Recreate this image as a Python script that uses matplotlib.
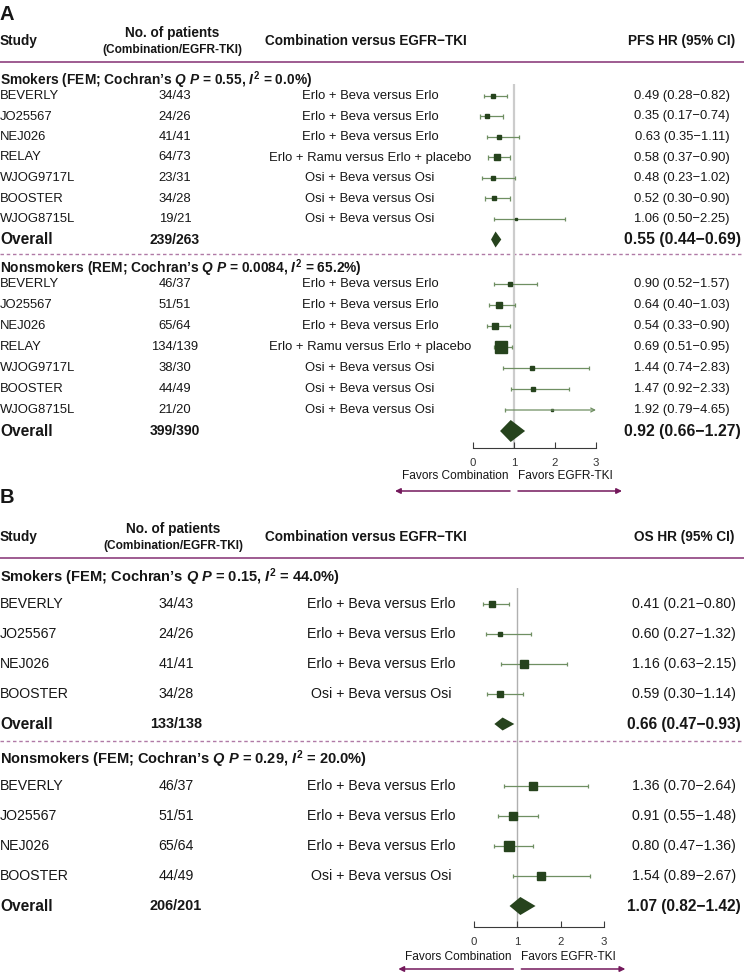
import matplotlib
matplotlib.use("Agg")
import matplotlib.pyplot as plt

plt.rcParams['font.family'] = ['Liberation Sans', 'DejaVu Sans']
plt.rcParams['mathtext.fontset'] = 'custom'
plt.rcParams['mathtext.rm'] = 'Liberation Sans:bold'
plt.rcParams['mathtext.it'] = 'Liberation Sans:italic:bold'
plt.rcParams['mathtext.bf'] = 'Liberation Sans:bold'

# ---- data: panel A (PFS) ----
studies_a = ['BEVERLY', 'JO25567', 'NEJ026', 'RELAY', 'WJOG9717L', 'BOOSTER', 'WJOG8715L']
arms_a = ['Erlo + Beva versus Erlo', 'Erlo + Beva versus Erlo', 'Erlo + Beva versus Erlo',
          'Erlo + Ramu versus Erlo + placebo', 'Osi + Beva versus Osi',
          'Osi + Beva versus Osi', 'Osi + Beva versus Osi']

pfs_smk_n = ['34/43', '24/26', '41/41', '64/73', '23/31', '34/28', '19/21']
pfs_smk_hr = [0.49, 0.35, 0.63, 0.58, 0.48, 0.52, 1.06]
pfs_smk_lo = [0.28, 0.17, 0.35, 0.37, 0.23, 0.30, 0.50]
pfs_smk_hi = [0.82, 0.74, 1.11, 0.90, 1.02, 0.90, 2.25]
pfs_smk_w = [4, 3, 4, 6, 3, 3.5, 2]
pfs_smk_all = ['239/263', 0.55, 0.44, 0.69]

pfs_non_n = ['46/37', '51/51', '65/64', '134/139', '38/30', '44/49', '21/20']
pfs_non_hr = [0.90, 0.64, 0.54, 0.69, 1.44, 1.47, 1.92]
pfs_non_lo = [0.52, 0.40, 0.33, 0.51, 0.74, 0.92, 0.79]
pfs_non_hi = [1.57, 1.03, 0.90, 0.95, 2.83, 2.33, 4.65]
pfs_non_w = [4, 5, 6, 11, 3, 4.5, 2]
pfs_non_all = ['399/390', 0.92, 0.66, 1.27]

# ---- data: panel B (OS) ----
studies_b = ['BEVERLY', 'JO25567', 'NEJ026', 'BOOSTER']
arms_b = ['Erlo + Beva versus Erlo', 'Erlo + Beva versus Erlo',
          'Erlo + Beva versus Erlo', 'Osi + Beva versus Osi']

os_smk_n = ['34/43', '24/26', '41/41', '34/28']
os_smk_hr = [0.41, 0.60, 1.16, 0.59]
os_smk_lo = [0.21, 0.27, 0.63, 0.30]
os_smk_hi = [0.80, 1.32, 2.15, 1.14]
os_smk_w = [6, 4, 7, 5]
os_smk_all = ['133/138', 0.66, 0.47, 0.93]

os_non_n = ['46/37', '51/51', '65/64', '44/49']
os_non_hr = [1.36, 0.91, 0.80, 1.54]
os_non_lo = [0.70, 0.55, 0.47, 0.89]
os_non_hi = [2.64, 1.48, 1.36, 2.67]
os_non_w = [7, 7, 9, 7]
os_non_all = ['206/201', 1.07, 0.82, 1.42]

ticks = [0, 1, 2, 3]

PT = '#26431d'
CI = '#6f8f62'
PURPLE = '#8e3f7e'
DASH = '#b07aa6'
ARROW = '#74195c'
TXT = '#161616'

W, H = 744, 972
fig = plt.figure(figsize=(7.44, 9.72), dpi=100)
bg = fig.add_axes([0, 0, 1, 1])
bg.set_xlim(0, W)
bg.set_ylim(H, 0)
bg.axis('off')


def fmt(hr, lo, hi):
    return '%.2f (%.2f\u2212%.2f)' % (hr, lo, hi)


def panel(letter, y0, endpoint, groups, studies, arms, lay):
    fs = lay['fs']
    bg.text(0, y0, letter, fontsize=14.5, fontweight='bold', va='center', color=TXT)
    hy = lay['head']
    bg.text(0, hy, 'Study', fontsize=9.8, fontweight='bold', va='center', color=TXT)
    bg.text(lay['ncol'] - 3, hy - 8, 'No. of patients', fontsize=9.8,
            fontweight='bold', va='center', ha='center', color=TXT)
    bg.text(lay['ncol'] - 3, hy + 9, '(Combination/EGFR-TKI)', fontsize=8.6,
            fontweight='bold', va='center', ha='center', color=TXT)
    bg.text(366, hy, 'Combination versus EGFR\u2212TKI', fontsize=9.8,
            fontweight='bold', va='center', ha='center', color=TXT)
    bg.text(lay['hrcol'], hy, endpoint + ' HR (95% CI)', fontsize=9.8,
            fontweight='bold', va='center', ha='center', color=TXT)
    bg.plot([0, W], [lay['line'], lay['line']], color=PURPLE, lw=1.2)

    ax = fig.add_axes([lay['x0'] / W, 1 - lay['axis'] / H,
                       (lay['x1'] - lay['x0']) / W, (lay['axis'] - lay['top']) / H])
    ax.set_xlim(0, 3)
    ax.set_ylim(lay['axis'], lay['top'])
    ax.patch.set_visible(False)
    for s in ['top', 'left', 'right']:
        ax.spines[s].set_visible(False)
    ax.spines['bottom'].set_color('#3a3a3a')
    ax.set_yticks([])
    ax.set_xticks(ticks)
    ax.tick_params(axis='x', direction='in', length=4.5, color='#3a3a3a',
                   labelsize=8.2, labelcolor='#333333', pad=lay['pad'])
    ax.axvline(1, color=lay['refc'], lw=lay['refw'], zorder=0)

    for gi, (title, n, hr, lo, hi, wt, tot) in enumerate(groups):
        top = lay['rows'][gi]
        step = lay['step'][gi]
        bg.text(0, top - lay['gap'], title, fontsize=lay['gfs'], fontweight='bold',
                va='center', color=TXT)
        for i in range(len(studies)):
            y = top + i * step
            bg.text(0, y, studies[i], fontsize=fs, va='center', color=TXT)
            bg.text(lay['ncol'], y, n[i], fontsize=fs, va='center', ha='center', color=TXT)
            bg.text(lay['armcol'], y, arms[i], fontsize=fs, va='center', ha='center', color=TXT)
            bg.text(lay['hrcol'], y, fmt(hr[i], lo[i], hi[i]), fontsize=fs, va='center',
                    ha='center', color=TXT)
            right = min(hi[i], 3)
            ax.vlines(lo[i], y - 2.3, y + 2.3, color=CI, lw=0.9)
            if hi[i] > 3:
                ax.annotate('', xy=(right, y), xytext=(lo[i], y),
                            arrowprops=dict(arrowstyle='->', color=CI, lw=0.9,
                                            shrinkA=0, shrinkB=0, mutation_scale=7))
            else:
                ax.hlines(y, lo[i], right, color=CI, lw=0.9)
                ax.vlines(right, y - 2.3, y + 2.3, color=CI, lw=0.9)
            ax.plot(hr[i], y, marker='s', ms=wt[i] * 0.75, color=PT, mec=PT, lw=0)
        yo = top + len(studies) * step
        bg.text(0, yo, 'Overall', fontsize=lay['ofs'], fontweight='bold', va='center', color=TXT)
        bg.text(lay['ncol'], yo, tot[0], fontsize=lay['nfs'], fontweight='bold',
                va='center', ha='center', color=TXT)
        bg.text(lay['hrcol'], yo, fmt(*tot[1:]), fontsize=lay['hfs'], fontweight='bold',
                va='center', ha='center', color=TXT)
        d = lay['dia'][gi]
        ax.fill([tot[2], tot[1], tot[3], tot[1]], [yo, yo - d, yo, yo + d], color=PT, lw=0)
        if gi == 0:
            yd = yo + lay['dash']
            bg.plot([0, W], [yd, yd], color=DASH, lw=1, ls=(0, (2.5, 2)))

    fy = lay['axis'] + lay['fav']
    c = lay['x0'] + (lay['x1'] - lay['x0']) / 3
    bg.text(c - 6, fy, 'Favors Combination',
            fontsize=8.6, ha='right', va='center', color=TXT)
    bg.text(c + 4, fy, 'Favors EGFR-TKI',
            fontsize=8.6, ha='left', va='center', color=TXT)
    ay = fy + lay['arr']
    bg.annotate('', xy=(c - 119, ay), xytext=(c - 4, ay),
                arrowprops=dict(arrowstyle='-|>', color=ARROW, lw=1.1, mutation_scale=8,
                                shrinkA=0, shrinkB=0))
    bg.annotate('', xy=(c + 108, ay), xytext=(c + 4, ay),
                arrowprops=dict(arrowstyle='-|>', color=ARROW, lw=1.1, mutation_scale=8,
                                shrinkA=0, shrinkB=0))


groups_a = [
    ("Smokers (FEM; Cochran\u2019s $Q$ $P$ = 0.55, $I^2$ = 0.0%)",
     pfs_smk_n, pfs_smk_hr, pfs_smk_lo, pfs_smk_hi, pfs_smk_w, pfs_smk_all),
    ("Nonsmokers (REM; Cochran\u2019s $Q$ $P$ = 0.0084, $I^2$ = 65.2%)",
     pfs_non_n, pfs_non_hr, pfs_non_lo, pfs_non_hi, pfs_non_w, pfs_non_all),
]
groups_b = [
    ("Smokers (FEM; Cochran\u2019s $Q$ $P$ = 0.15, $I^2$ = 44.0%)",
     os_smk_n, os_smk_hr, os_smk_lo, os_smk_hi, os_smk_w, os_smk_all),
    ("Nonsmokers (FEM; Cochran\u2019s $Q$ $P$ = 0.29, $I^2$ = 20.0%)",
     os_non_n, os_non_hr, os_non_lo, os_non_hi, os_non_w, os_non_all),
]

lay_a = dict(fs=9.4, gfs=9.95, ofs=11.2, nfs=10, hfs=11.3, head=41, line=62,
             rows=[96, 284], step=[20.5, 21], gap=16, dash=15, ncol=175, armcol=370,
             hrcol=682, x0=473, x1=596, top=84, axis=448, dia=[8, 11],
             refc='#cccccc', refw=1.6, fav=28, arr=15, pad=7.5)
lay_b = dict(fs=10.2, gfs=10.5, ofs=11.2, nfs=10.4, hfs=11.2, head=537, line=558,
             rows=[604, 786], step=[30, 30], gap=27, dash=17, ncol=176, armcol=381,
             hrcol=684, x0=474, x1=604, top=588, axis=927, dia=[6.5, 9],
             refc='#b0b0b0', refw=1.0, fav=30, arr=12, pad=7.5)

panel('A', 14, 'PFS', groups_a, studies_a, arms_a, lay_a)
panel('B', 497, 'OS', groups_b, studies_b, arms_b, lay_b)

fig.savefig('out.png', dpi=100)
